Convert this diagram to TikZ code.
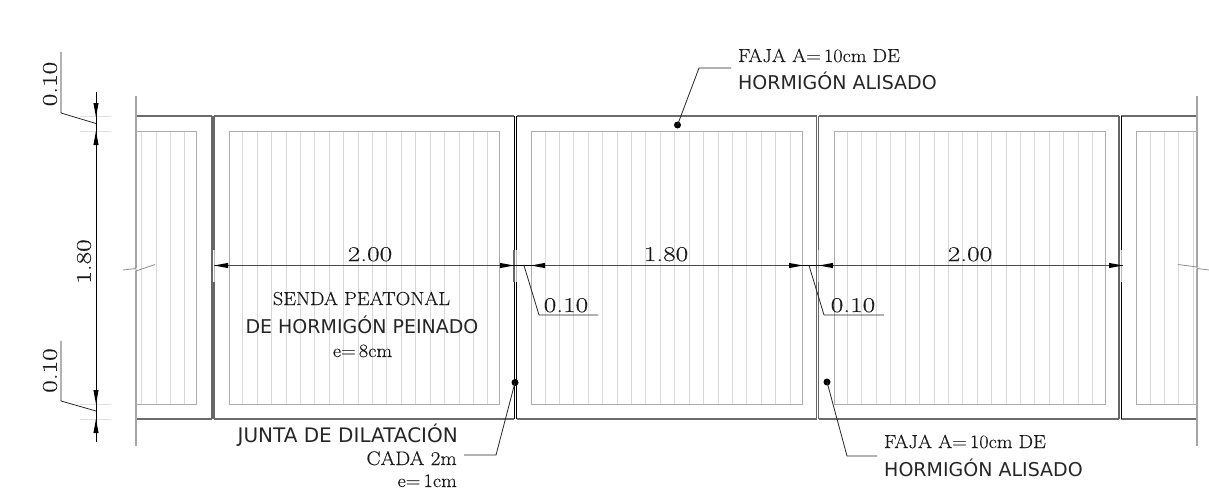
\documentclass[tikz,border=0pt]{standalone}
\usepackage{fontspec}
\setmainfont{Latin Modern Roman}[FakeStretch=1.08,FakeBold=0.25]
\newfontfamily\numf{Latin Modern Roman}[FakeStretch=1.3,FakeBold=0.25]
\newfontfamily\sansf{DejaVu Sans}
\usetikzlibrary{arrows.meta}
\definecolor{hatch}{gray}{0.85}
\definecolor{inner}{gray}{0.68}
\definecolor{outer}{gray}{0.42}
\tikzset{
  hatchline/.style={draw=hatch,line width=1.4pt},
  innerbox/.style={draw=inner,line width=1pt},
  outerline/.style={draw=outer,line width=1.2pt},
  edgeline/.style={draw=black!35,line width=1.1pt},
  jointdark/.style={draw=black,line width=1pt},
  jointgray/.style={draw=black!60,line width=1.2pt},
  jointgap/.style={draw=black!28,line width=1pt},
  dimline/.style={draw=black!70,line width=0.9pt},
  dimcore/.style={draw=black,line width=1pt},
  leader/.style={draw=black!85,line width=0.8pt},
  tick/.style={draw=black!12,line width=1pt},
  tip/.style={fill=black,draw=none},
  dot/.style={circle,fill=black,inner sep=0pt,minimum size=7pt},
  ser/.style={inner sep=0pt,font=\fontsize{18.8}{18.8}\selectfont,text=black!90},
  snf/.style={inner sep=0pt,font=\sansf\fontsize{19}{19}\selectfont,text=black!85},
  num/.style={inner sep=0pt,font=\numf\fontsize{21}{21}\selectfont,text=black!90}
}
\newcommand{\tipL}[2]{\fill[tip] (#1,#2) -- (#1+14,#2-2.6) -- (#1+14,#2+2.6) -- cycle;}
\newcommand{\tipR}[2]{\fill[tip] (#1,#2) -- (#1-14,#2-2.6) -- (#1-14,#2+2.6) -- cycle;}
\newcommand{\tipU}[2]{\fill[tip] (#1,#2) -- (#1-2.6,#2+14) -- (#1+2.6,#2+14) -- cycle;}
\newcommand{\tipD}[2]{\fill[tip] (#1,#2) -- (#1-2.6,#2-14) -- (#1+2.6,#2-14) -- cycle;}
\begin{document}
\begin{tikzpicture}[x=1pt,y=-1pt]
\useasboundingbox (0,0) rectangle (1209,495);
% hatching
\foreach \x in {141.5,156.5,170.5,184.5,1150.5,1164.5,1178.5,1193.5} \draw[hatchline] (\x,131) -- (\x,404);
\foreach \s in {242.3,544.5,847} \foreach \k in {0,...,17} {
  \pgfmathsetmacro{\hx}{round(\s+14.42*\k)+0.5}
  \draw[hatchline] (\hx,131) -- (\hx,404);
}
% inner boxes
\draw[innerbox] (136,131) -- (196,131) -- (196,404) -- (136,404);
\draw[innerbox] (229,131) rectangle (499,404);
\draw[innerbox] (531,131) rectangle (802,404);
\draw[innerbox] (834,131) rectangle (1105,404);
\draw[innerbox] (1197,131) -- (1136,131) -- (1136,404) -- (1197,404);
% outer lines
\foreach \a/\b in {136/212,214/514,516.5/816.5,818.8/1119,1121/1197} {
  \draw[outerline] (\a,116) -- (\b,116);
  \draw[outerline] (\a,419) -- (\b,419);
}
\draw[edgeline] (136,96) -- (136,268);
\draw[edgeline] (136,271) -- (136,446);
\draw[edgeline] (1197,96) -- (1197,267);
\draw[edgeline] (1197,269) -- (1197,446);
% joints
\foreach \x in {212,214,816.5,818.8,1119} {
  \draw[jointgray] (\x,116) -- (\x,250);
  \draw[jointgray] (\x,282) -- (\x,419);
}
\foreach \x in {514,516.5,1121} {
  \draw[jointdark] (\x,116) -- (\x,250);
  \draw[jointdark] (\x,282) -- (\x,419);
}
\foreach \x in {212,514,816.5,1119} \draw[jointgray] (\x,250) -- (\x,282);
\foreach \x in {214,516.5,818.8,1121} \draw[jointgap] (\x,250) -- (\x,282);
% break marks
\draw[draw=black!45,line width=0.8pt] (123,270) -- (136,268.5) -- (136,271) -- (155,264.5);
\draw[draw=black!45,line width=0.8pt] (1178,264.5) -- (1197,267) -- (1197,268.5) -- (1209,270);
% vertical dimension
\foreach \y in {116,131,404,419} \draw[tick] (80,\y) -- (111,\y);
\draw[dimcore] (96,92) -- (96,442);
\tipD{96}{117}\tipU{96}{131}\tipD{96}{404}\tipU{96}{419}
\coordinate (v1) at (96,123.5); \coordinate (v1a) at (61,113); \coordinate (v1b) at (61,52);
\coordinate (v2) at (96,411); \coordinate (v2a) at (61,401); \coordinate (v2b) at (61,341);
\draw[leader] (v1) -- (v1a) -- (v1b);
\draw[leader] (v2) -- (v2a) -- (v2b);
\node[num,rotate=90] (n1) at (50,84) {0.10};
\node[num,rotate=90] (n2) at (50,370.5) {0.10};
\node[num,rotate=90] (n3) at (84,261.5) {1.80};
% horizontal dimension
\draw[dimline] (214,265.5) -- (1123,265.5);
\draw[dimcore] (503,265.5) -- (544,265.5);
\draw[dimcore] (790,265.5) -- (832,265.5);
\tipL{214}{265.5}\tipR{514}{265.5}\tipL{531}{265.5}\tipR{803}{265.5}\tipL{819}{265.5}\tipR{1123}{265.5}
\node[num,anchor=base] (d1) at (370,261) {2.00};
\node[num,anchor=base] (d2) at (666,261) {1.80};
\node[num,anchor=base] (d3) at (970,261) {2.00};
\coordinate (a1) at (524,265.5); \coordinate (a2) at (539,315); \coordinate (a3) at (598,315);
\coordinate (b1) at (809,265.5); \coordinate (b2) at (824,315); \coordinate (b3) at (884,315);
\draw[leader] (a1) -- (a2) -- (a3);
\draw[leader] (b1) -- (b2) -- (b3);
\node[num,anchor=base] (d4) at (566,312) {0.10};
\node[num,anchor=base] (d5) at (853,312) {0.10};
% texts
\node[ser,anchor=base] (t1) at (361.5,305) {SENDA PEATONAL};
\node[snf,anchor=base] (t2) at (362,333) {DE HORMIGÓN PEINADO};
\node[ser,anchor=base] (t3) at (362.5,357) {e=\,8cm};
\node[ser,anchor=base west] (t4) at (738,62) {FAJA A=\,10cm DE};
\node[snf,anchor=base west] (t5) at (738,89) {HORMIGÓN ALISADO};
\node[ser,anchor=base west] (t6) at (884,448) {FAJA A=\,10cm DE};
\node[snf,anchor=base west] (t7) at (884,476) {HORMIGÓN ALISADO};
\node[snf,anchor=base east,font=\sansf\fontsize{20}{20}\selectfont] (t8) at (458,442) {JUNTA DE DILATACIÓN};
\node[ser,anchor=base east,font=\fontsize{19.6}{19.6}\selectfont] (t9) at (457,465) {CADA 2m};
\node[ser,anchor=base east] (t10) at (457,487) {e=\,1cm};
% leaders with dots
\node[dot] (p1) at (677.5,125) {};
\node[dot] (p2) at (515,382.5) {};
\node[dot] (p3) at (827,382) {};
\coordinate (l1a) at (699,68); \coordinate (l1b) at (731,68);
\coordinate (l2a) at (496,455); \coordinate (l2b) at (464,455);
\coordinate (l3a) at (847,456); \coordinate (l3b) at (877,456);
\draw[leader] (p1.center) -- (l1a) -- (l1b);
\draw[leader] (p2.center) -- (l2a) -- (l2b);
\draw[leader] (p3.center) -- (l3a) -- (l3b);
\end{tikzpicture}
\end{document}
